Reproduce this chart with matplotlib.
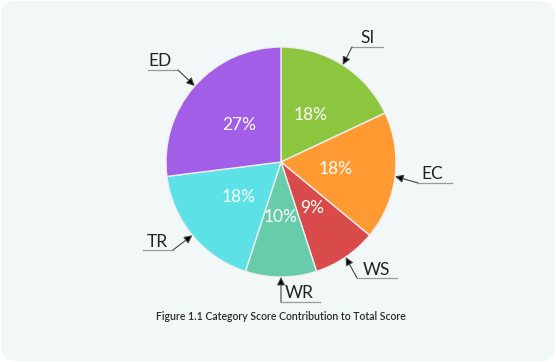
import numpy as np
import matplotlib
matplotlib.use("Agg")
import matplotlib.pyplot as plt
from matplotlib.patches import FancyBboxPatch

plt.rcParams["font.family"] = ["Lato", "DejaVu Sans"]

# slice data, clockwise from 12 o'clock
labels = ["SI", "EC", "WS", "WR", "TR", "ED"]
shares = [18, 18, 9, 10, 18, 27]
colors = ["#8cc63f", "#ff9a33", "#d94b4b", "#66ccaa", "#5ce1e6", "#a35ee8"]
caption = "Figure 1.1 Category Score Contribution to Total Score"

W, H = 556, 362

# callout layout in pixels from top-left: text x, text y, underline x0, x1, y, elbow end
callouts = {
    "SI": (368, 38, 352, 383, 47, 0),
    "EC": (432, 174, 418, 452, 183, 0),
    "WS": (376, 270, 357, 397, 278, 0),
    "WR": (299, 293, 281, 320, 302, 0),
    "TR": (157, 242, 143, 173, 250, 1),
    "ED": (160, 61, 148, 178, 70, 1),
}

fig = plt.figure(figsize=(W / 100, H / 100), dpi=100, facecolor="white")
ax = fig.add_axes([0, 0, 1, 1])

card = FancyBboxPatch((1, 1), W - 2, H - 2, boxstyle="round,pad=0,rounding_size=14",
                      facecolor="#f2f8f7", edgecolor="none", zorder=0)
ax.add_patch(card)

cx, cy, R = 281, H - 162, 115
wedges, texts, autotexts = ax.pie(
    shares, colors=colors, startangle=90, counterclock=False,
    center=(cx, cy), radius=R,
    autopct=lambda p: f"{p:.0f}%", pctdistance=0.48,
    wedgeprops=dict(edgecolor="#eeeeee", linewidth=1),
    textprops=dict(color="white", fontsize=12.5))

for w, lab in zip(wedges, labels):
    ang = np.deg2rad((w.theta1 + w.theta2) / 2)
    tip = (cx + R * np.cos(ang), cy + R * np.sin(ang))
    tx, ty, x0, x1, uy, side = callouts[lab]
    elbow = (x1 if side else x0, H - uy)
    ax.plot([x0, x1], [H - uy, H - uy], color="#9a9a9a", lw=0.9, zorder=3)
    ax.annotate("", xy=tip, xytext=elbow,
                arrowprops=dict(arrowstyle="-|>", color="#444444", lw=0.8,
                                mutation_scale=12, shrinkA=0, shrinkB=0,
                                fc="black"), zorder=4)
    ax.text(tx, H - ty, lab, ha="center", va="center", fontsize=12.5,
            color="#222222")

ax.text(281, H - 317, caption, ha="center", va="center", fontsize=7.6,
        fontweight="semibold", color="#2a2a2a")

ax.set_xlim(0, W)
ax.set_ylim(0, H)
ax.axis("off")

fig.savefig("out.png", dpi=100, facecolor="white")
